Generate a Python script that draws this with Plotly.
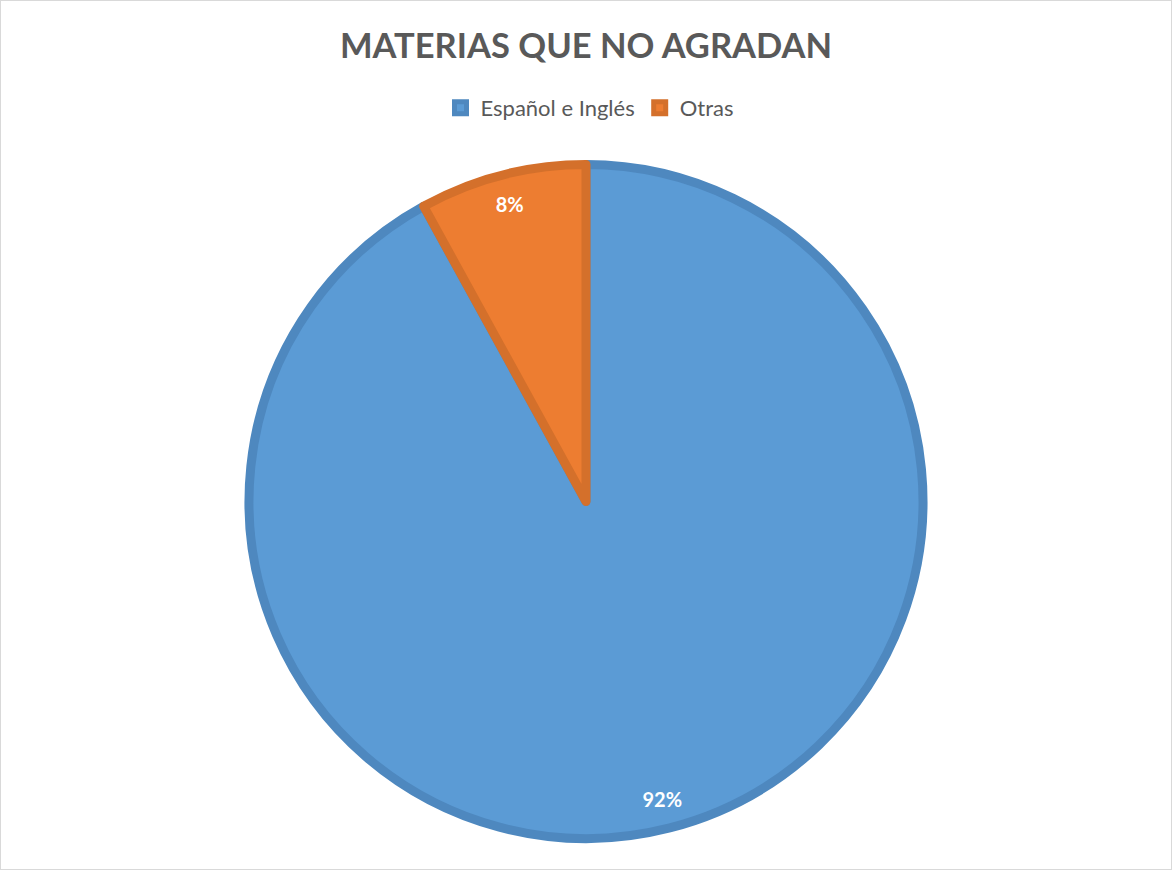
import plotly.graph_objects as go

labels = ["Español e Inglés", "Otras"]
values = [92, 8]
fill_colors = ["#5B9BD5", "#ED7D31"]
edge_colors = ["#4E88BF", "#D4702B"]

W, H = 1172, 870
cx, cy = 586, 501.5
r = 337
dom_x = [(cx - r) / W, (cx + r) / W]
dom_y = [(H - cy - r) / H, (H - cy + r) / H]

fig = go.Figure()
fig.add_trace(go.Pie(
    labels=labels, values=values, sort=False, direction="clockwise", rotation=0,
    marker=dict(colors=fill_colors, line=dict(color=edge_colors, width=9)),
    textinfo="none", hoverinfo="label+percent",
    domain=dict(x=dom_x, y=dom_y), showlegend=True,
))
fig.add_trace(go.Pie(
    labels=labels, values=values, sort=False, direction="clockwise", rotation=0,
    hole=0.82,
    marker=dict(colors=["rgba(0,0,0,0)"] * 2, line=dict(width=0)),
    textinfo="percent", textposition="inside", insidetextorientation="horizontal",
    textfont=dict(family="Lato", size=20, color="white", weight="bold"),
    hoverinfo="skip", showlegend=False,
    domain=dict(x=dom_x, y=dom_y),
))

fig.update_layout(
    width=W, height=H,
    margin=dict(l=0, r=0, t=0, b=0),
    paper_bgcolor="white", plot_bgcolor="white",
    title=dict(text="MATERIAS QUE NO AGRADAN", x=0.5, xanchor="center",
               y=1 - 46 / H, yanchor="middle",
               font=dict(family="Lato", size=34.5, color="#595959", weight="bold")),
    legend=dict(orientation="h", x=0.503, xanchor="center", y=1 - 108 / H, yanchor="middle",
                font=dict(family="Lato", size=22, color="#595959"),
                itemwidth=30, traceorder="normal"),
    shapes=[dict(type="rect", xref="paper", yref="paper", x0=0, x1=1, y0=0, y1=1,
                 line=dict(color="#D9D9D9", width=2))],
)

fig.write_html("out.html", config={"displayModeBar": False},
               post_script="document.body.style.margin='0';")
